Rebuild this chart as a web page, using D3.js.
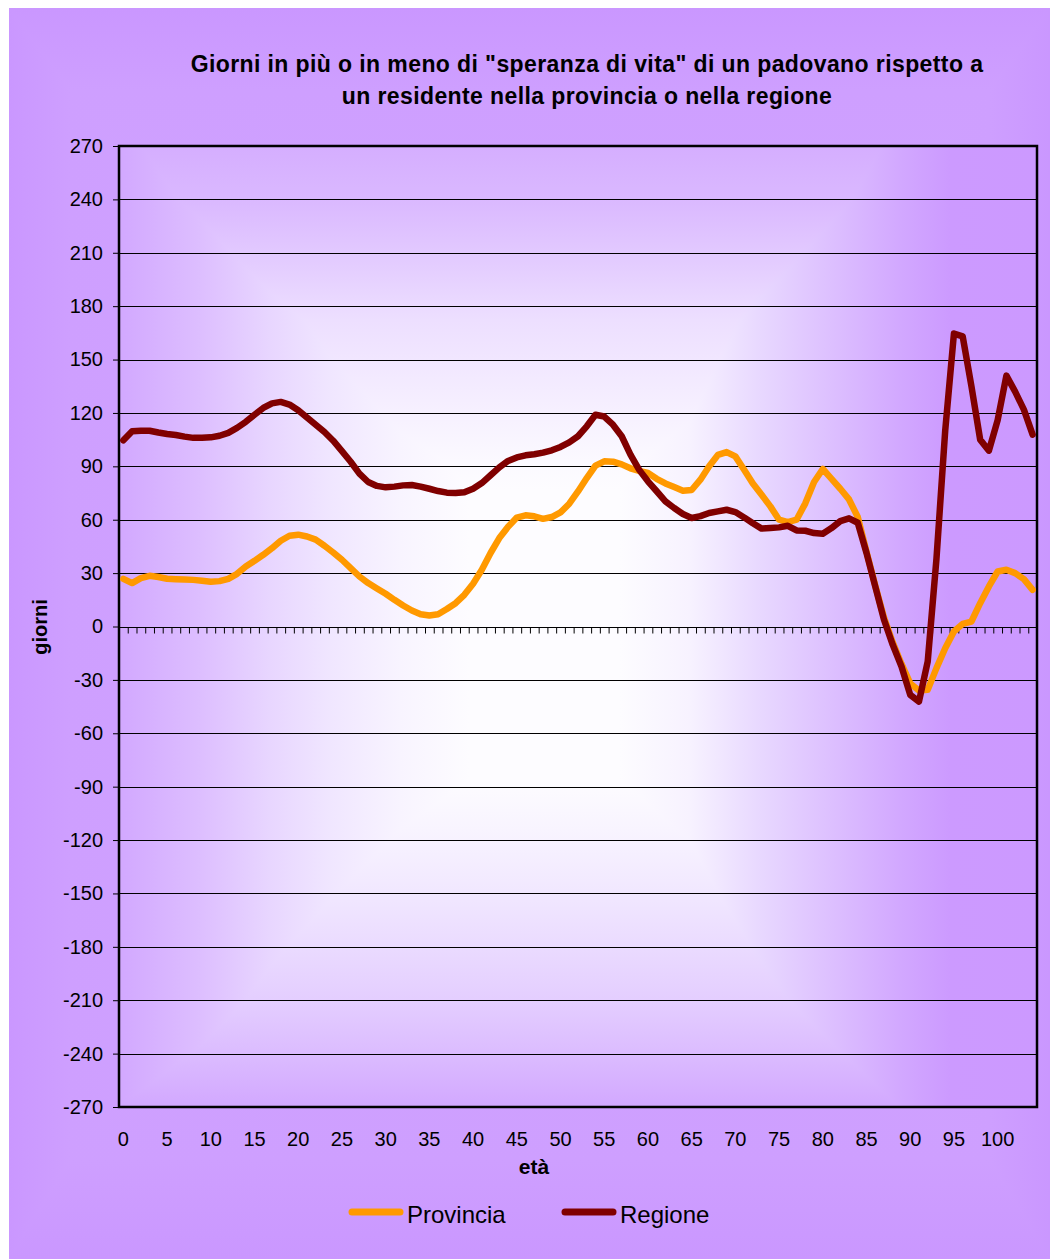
<!DOCTYPE html>
<html>
<head>
<meta charset="utf-8">
<script src="https://cdn.jsdelivr.net/npm/d3@7"></script>
<style>
html,body{margin:0;padding:0;background:#fff;}
svg{display:block;}
text{font-family:"Liberation Sans",Arial,sans-serif;fill:#000;}
</style>
</head>
<body>
<div id="chart"></div>
<script>
const titleLines = ["Giorni in più o in meno di \"speranza di vita\" di un padovano rispetto a",
                    "un residente nella provincia o nella regione"];
const xTitle = "età";
const yTitle = "giorni";
const seriesNames = ["Provincia", "Regione"];
const seriesColors = ["#FF9900", "#800000"];

const ages = [0,1,2,3,4,5,6,7,8,9,10,11,12,13,14,15,16,17,18,19,20,21,22,23,24,25,26,27,28,29,
  30,31,32,33,34,35,36,37,38,39,40,41,42,43,44,45,46,47,48,49,50,51,52,53,54,55,56,57,58,59,
  60,61,62,63,64,65,66,67,68,69,70,71,72,73,74,75,76,77,78,79,80,81,82,83,84,85,86,87,88,89,
  90,91,92,93,94,95,96,97,98,99,100,101,102,103,104];

const xTickLabels = [0,5,10,15,20,25,30,35,40,45,50,55,60,65,70,75,80,85,90,95,100];
const yTickValues = [270,240,210,180,150,120,90,60,30,0,-30,-60,-90,-120,-150,-180,-210,-240,-270];

const provincia = [26.8,24.4,27.2,28.5,27.8,26.8,26.6,26.4,26.2,25.7,
  25.2,25.5,26.8,29.6,33.7,36.9,40.3,44,48.2,51,
  51.6,50.6,48.8,45.4,41.6,37.5,32.8,28.1,24.4,21.4,
  18.4,15,11.8,9,6.9,6.2,6.9,9.8,13.1,17.8,
  24,31.9,41.3,49.7,56,61.2,62.5,61.9,60.5,61.5,
  64.1,69,75.9,83.4,90.4,92.8,92.6,91.1,88.9,87.4,
  86.3,83,80.4,78.4,76.3,76.7,82.5,90,96.4,98,
  95.6,88.1,80.3,74,67.5,60,58.7,60,69.2,81.2,
  88.5,83,77.4,71.4,61.5,42,23,5,-9,-21,
  -32,-36,-35.6,-23.4,-12.2,-2.8,1.5,2.8,13.1,22.5,
  30.9,31.9,30,26.6,20.6];

const regione = [104.6,109.7,110,110,109,108.2,107.6,106.7,106,106,
  106.3,107.2,108.8,111.6,115,119,122.8,125.4,126.2,124.7,
  121.5,117.4,113.4,109.3,104.4,98.6,92.6,85.9,81.2,79,
  78.2,78.6,79.3,79.5,78.6,77.4,76.1,75.2,75,75.4,
  77.4,80.6,85,89.4,93,95,96.2,96.8,97.7,99,
  100.9,103.5,106.9,112.5,119,118,113.4,106.9,96.6,88,
  81.6,76,70.3,66.6,63.2,61,62,63.8,64.7,65.6,
  64.3,61.3,58,55,55.3,55.7,56.6,54,53.8,52.5,
  52.1,55.3,59.2,60.8,58.3,41.3,22.5,3.8,-10.3,-22.5,
  -38.4,-42.2,-19.7,38,110,164.6,163,135,105,98.8,
  116,141,132,121.9,107.8];

const W = 1050, H = 1259;
const plot = {x0: 119, x1: 1037, y0: 146, y1: 1107};

const svg = d3.select("#chart").append("svg").attr("width", W).attr("height", H);
const defs = svg.append("defs");

function linGrad(id, horizontal, a, b, stops) {
  const g = defs.append("linearGradient").attr("id", id).attr("gradientUnits", "userSpaceOnUse");
  if (horizontal) g.attr("x1", a).attr("x2", b).attr("y1", 0).attr("y2", 0);
  else g.attr("x1", 0).attr("x2", 0).attr("y1", a).attr("y2", b);
  stops.forEach(s => g.append("stop").attr("offset", (s[0] - a) / (b - a)).attr("stop-color", s[1]));
}

// outer chart area
linGrad("outerH", true, 9, 1050, [[9,"#CA97FF"],[70,"#CE9FFF"],[530,"#D2A6FF"],[990,"#CE9FFF"],[1050,"#CA97FF"]]);
linGrad("outerV", false, 8, 1259, [[8,"#CA97FF"],[90,"#CE9FFF"],[633,"#D2A6FF"],[1160,"#CE9FFF"],[1259,"#CA97FF"]]);
const outer = svg.append("g").style("isolation", "isolate");
outer.append("rect").attr("x", 9).attr("y", 8).attr("width", W - 9).attr("height", H - 8).attr("fill", "url(#outerH)");
outer.append("rect").attr("x", 9).attr("y", 8).attr("width", W - 9).attr("height", H - 8).attr("fill", "url(#outerV)").style("mix-blend-mode", "darken");

// plot area gradient
linGrad("plotH", true, plot.x0, plot.x1, [[119,"#D2A8FF"],[200,"#DDBEFF"],[270,"#E8D6FF"],[330,"#F0E6FF"],[400,"#F8F4FF"],[470,"#FDFCFF"],[620,"#FDFCFF"],[690,"#F7F2FF"],[760,"#E8D8FF"],[830,"#DDC0FF"],[900,"#D2A8FF"],[950,"#CC9AFF"],[1037,"#CC99FF"]]);
linGrad("plotV", false, plot.y0, plot.y1, [[146,"#D5AEFF"],[199,"#DAB8FF"],[260,"#E3CBFF"],[320,"#EDDFFF"],[400,"#F5EEFF"],[460,"#FBF9FF"],[520,"#FFFFFF"],[760,"#FFFFFF"],[830,"#F8F4FF"],[900,"#F0E6FF"],[1000,"#E4CEFF"],[1050,"#DCBDFF"],[1107,"#D2A8FF"]]);
const pg = svg.append("g").style("isolation", "isolate");
pg.append("rect").attr("x", plot.x0).attr("y", plot.y0).attr("width", plot.x1 - plot.x0).attr("height", plot.y1 - plot.y0).attr("fill", "url(#plotH)");
pg.append("rect").attr("x", plot.x0).attr("y", plot.y0).attr("width", plot.x1 - plot.x0).attr("height", plot.y1 - plot.y0).attr("fill", "url(#plotV)").style("mix-blend-mode", "darken");

// scales
const x = d3.scaleBand().domain(ages).range([plot.x0, plot.x1]).paddingInner(0).paddingOuter(0);
const bw = x.bandwidth();
const xc = d => x(d) + bw / 2;
const y = d3.scaleLinear().domain([-270, 270]).range([plot.y1, plot.y0]);

// gridlines
svg.append("g").selectAll("line").data(yTickValues).join("line")
  .attr("x1", plot.x0).attr("x2", plot.x1)
  .attr("y1", d => Math.round(y(d)) + 0.5).attr("y2", d => Math.round(y(d)) + 0.5)
  .attr("stroke", "#000").attr("stroke-width", 1);

// y axis
const yAxis = d3.axisLeft(y).tickValues(yTickValues).tickSize(6).tickPadding(10).tickFormat(d => String(d));
const yg = svg.append("g").attr("transform", `translate(${plot.x0},0)`).call(yAxis);
yg.select(".domain").remove();
yg.selectAll("line").attr("stroke", "#000");
yg.selectAll("text").style("font-size", "20px").attr("font-family", "Liberation Sans, Arial, sans-serif").attr("fill", "#000");

// x axis at zero with ticks at category boundaries
const boundaries = ages.map(a => x(a)).concat([plot.x1]);
const bScale = d3.scaleLinear().domain([0, 1]).range([0, 1]);
const xAxis = d3.axisBottom(bScale).tickValues(boundaries).tickSize(6).tickFormat("");
const xg = svg.append("g").attr("transform", `translate(0,${Math.round(y(0)) + 0.5})`).call(xAxis);
xg.select(".domain").remove();
xg.selectAll("line").attr("stroke", "#000").attr("stroke-width", 1);
svg.append("line").attr("x1", plot.x0).attr("x2", plot.x1)
  .attr("y1", Math.round(y(0)) + 0.5).attr("y2", Math.round(y(0)) + 0.5).attr("stroke", "#000");

// x tick labels at the bottom
svg.append("g").selectAll("text").data(xTickLabels).join("text")
  .attr("x", d => xc(d)).attr("y", 1146).attr("text-anchor", "middle")
  .style("font-size", "20px").text(d => d);

// plot border
svg.append("rect").attr("x", plot.x0).attr("y", plot.y0).attr("width", plot.x1 - plot.x0).attr("height", plot.y1 - plot.y0)
  .attr("fill", "none").attr("stroke", "#000").attr("stroke-width", 2.5);

// lines
const line = d3.line().x((d, i) => xc(ages[i])).y(d => y(d));
[provincia, regione].forEach((s, k) => {
  svg.append("path").datum(s).attr("d", line).attr("fill", "none")
    .attr("stroke", seriesColors[k]).attr("stroke-width", 6.5)
    .attr("stroke-linejoin", "round").attr("stroke-linecap", "round");
});

// title
svg.append("g").selectAll("text").data(titleLines).join("text")
  .attr("x", 587).attr("y", (d, i) => 72 + i * 32).attr("text-anchor", "middle")
  .style("font-size", "23px").style("font-weight", "bold").style("letter-spacing", "0.4px").text(d => d);

// axis titles
svg.append("text").attr("x", 534).attr("y", 1174).attr("text-anchor", "middle")
  .style("font-size", "21px").style("font-weight", "bold").text(xTitle);
svg.append("text").attr("transform", "translate(47,627) rotate(-90)").attr("text-anchor", "middle")
  .style("font-size", "20px").style("font-weight", "bold").text(yTitle);

// legend
const legendX = [349, 562];
seriesNames.forEach((n, k) => {
  svg.append("line").attr("x1", legendX[k] + 3).attr("x2", legendX[k] + 51).attr("y1", 1212).attr("y2", 1212)
    .attr("stroke", seriesColors[k]).attr("stroke-width", 7).attr("stroke-linecap", "round");
  svg.append("text").attr("x", legendX[k] + 58).attr("y", 1223).style("font-size", "24px").text(n);
});
</script>
</body>
</html>
